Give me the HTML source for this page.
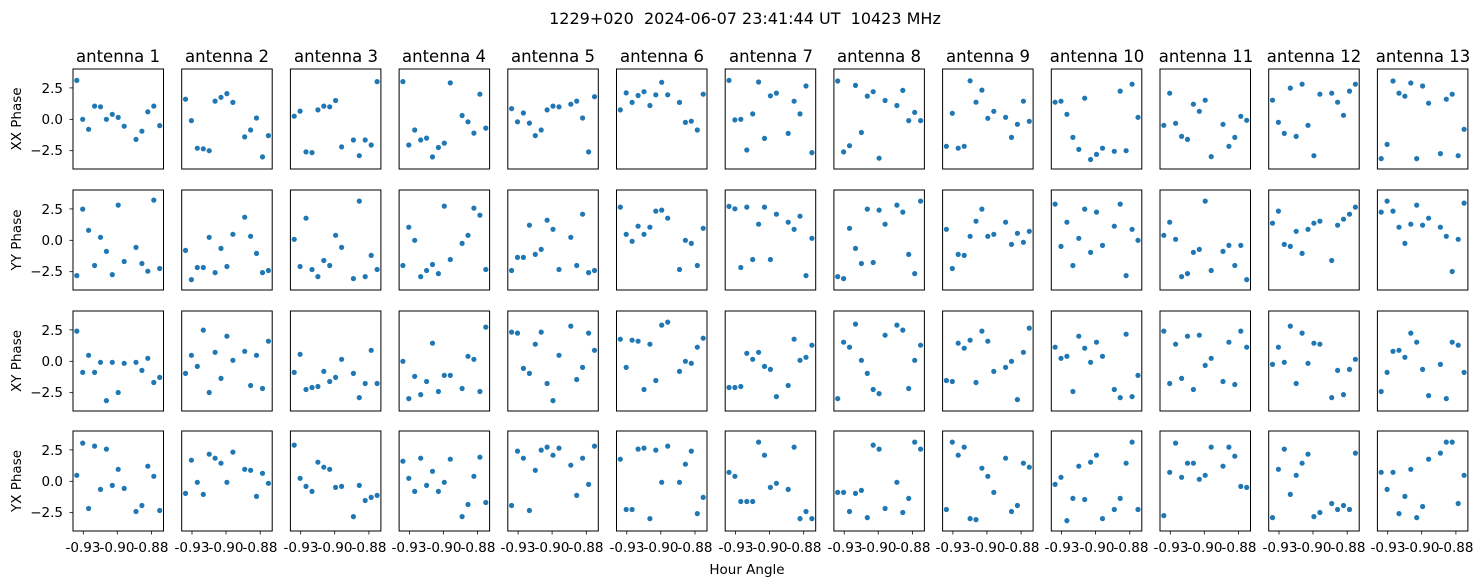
<!DOCTYPE html>
<html><head><meta charset="utf-8"><style>
html,body{margin:0;padding:0;background:#fff;}
svg{display:block;font-family:"DejaVu Sans","Liberation Sans",sans-serif;}
</style></head><body>
<svg id="s" width="1482" height="586" viewBox="0 0 1482 586" xmlns="http://www.w3.org/2000/svg">
<text x="745" y="24" font-size="16" text-anchor="middle" style="white-space:pre" xml:space="preserve">1229+020  2024-06-07 23:41:44 UT  10423 MHz</text>
<g font-size="16.5" text-anchor="middle">
<text x="118" y="62">antenna 1</text><text x="227" y="62">antenna 2</text><text x="336" y="62">antenna 3</text><text x="444" y="62">antenna 4</text><text x="553" y="62">antenna 5</text><text x="662" y="62">antenna 6</text><text x="771" y="62">antenna 7</text><text x="879" y="62">antenna 8</text><text x="988" y="62">antenna 9</text><text x="1097" y="62">antenna 10</text><text x="1206" y="62">antenna 11</text><text x="1314" y="62">antenna 12</text><text x="1423" y="62">antenna 13</text>
</g>
<g font-size="13.5" text-anchor="middle">
<text transform="translate(21,119) rotate(-90)">XX Phase</text>
<text transform="translate(21,240) rotate(-90)">YY Phase</text>
<text transform="translate(21,361) rotate(-90)">XY Phase</text>
<text transform="translate(21,481) rotate(-90)">YX Phase</text>
<text x="747" y="574">Hour Angle</text>
</g>
<g font-size="13.5" text-anchor="end">
<text x="63" y="93">2.5</text><text x="63" y="124">0.0</text><text x="63" y="155">−2.5</text>
<text x="63" y="214">2.5</text><text x="63" y="245">0.0</text><text x="63" y="276">−2.5</text>
<text x="63" y="335">2.5</text><text x="63" y="366">0.0</text><text x="63" y="397">−2.5</text>
<text x="63" y="455">2.5</text><text x="63" y="486">0.0</text><text x="63" y="517">−2.5</text>
</g>
<g font-size="13.5" text-anchor="middle">
<text x="83" y="552">-0.93</text><text x="117" y="552">-0.90</text><text x="151" y="552">-0.88</text>
<text x="192" y="552">-0.93</text><text x="226" y="552">-0.90</text><text x="260" y="552">-0.88</text>
<text x="301" y="552">-0.93</text><text x="335" y="552">-0.90</text><text x="369" y="552">-0.88</text>
<text x="409" y="552">-0.93</text><text x="444" y="552">-0.90</text><text x="478" y="552">-0.88</text>
<text x="518" y="552">-0.93</text><text x="552" y="552">-0.90</text><text x="586" y="552">-0.88</text>
<text x="627" y="552">-0.93</text><text x="661" y="552">-0.90</text><text x="695" y="552">-0.88</text>
<text x="736" y="552">-0.93</text><text x="770" y="552">-0.90</text><text x="804" y="552">-0.88</text>
<text x="845" y="552">-0.93</text><text x="879" y="552">-0.90</text><text x="913" y="552">-0.88</text>
<text x="953" y="552">-0.93</text><text x="988" y="552">-0.90</text><text x="1022" y="552">-0.88</text>
<text x="1062" y="552">-0.93</text><text x="1097" y="552">-0.90</text><text x="1131" y="552">-0.88</text>
<text x="1171" y="552">-0.93</text><text x="1205" y="552">-0.90</text><text x="1239" y="552">-0.88</text>
<text x="1280" y="552">-0.93</text><text x="1314" y="552">-0.90</text><text x="1348" y="552">-0.88</text>
<text x="1388" y="552">-0.93</text><text x="1422" y="552">-0.90</text><text x="1456" y="552">-0.88</text>
</g>
<g id="g"></g>
</svg>
<script>
var R1=[
[3.1,0,-0.8,1.05,1.0,0,0.4,0.15,-0.55,-1.6,-0.95,0.6,1.05,-0.5],
[1.6,-0.1,-2.3,-2.35,-2.5,1.45,1.75,2.05,1.35,-1.4,-0.85,0.1,-3.0,-1.3],
[0.25,0.65,-2.6,-2.65,0.75,1.05,1.0,1.5,-2.2,-1.65,-2.9,-1.65,-2.05,3.0],
[3.0,-2.05,-0.85,-1.65,-1.5,-3.0,-2.25,-1.9,2.9,0.3,-0.2,-1.1,2.0,-0.7],
[0.85,-0.2,0.5,-0.3,-1.3,-0.85,0.75,1.05,1.0,1.2,1.45,0.1,-2.6,1.8],
[0.75,2.1,1.35,1.9,2.2,1.1,1.95,2.95,1.95,1.35,-0.25,-0.15,-0.85,2.0],
[3.1,-0.05,0,-2.45,0.43,2.97,-1.52,1.87,2.09,-1.12,1.44,0.43,2.65,-2.65],
[3.05,-2.6,-2.1,2.7,-1.05,1.85,2.2,-3.1,1.5,1.1,2.3,-0.1,0.55,-0.1],
[-2.15,0.48,-2.3,-2.15,3.07,1.36,2.33,0.08,0.64,0.16,-1.44,-0.4,1.44,-0.16],
[1.36,1.44,0.4,-1.44,-2.4,1.68,-3.2,-2.8,-2.3,-2.55,2.25,-2.5,2.8,0.16],
[-0.48,2.08,-0.32,-1.36,-1.6,1.2,0.64,1.52,-2.97,-0.4,-2.15,-1.44,0.24,-0.08],
[1.52,-0.24,-1.12,2.49,-1.36,2.8,-0.48,-2.9,2.0,2.08,1.36,0.32,2.25,2.8],
[-3.13,-2.0,3.05,2.08,1.84,2.89,-3.13,2.65,1.28,-2.73,1.6,2.0,-2.9,-0.8]];
var R2=[
[283,85,148,253,169,211,280,73,241,199,247,270,58,262],
[208,295,259,259,169,274,202,256,160,109,166,217,274,268],
[175,256,112,265,286,238,253,163,199,292,61,286,223,265],
[253,139,178,286,268,250,277,76,235,187,163,82,103,265],
[268,229,229,133,220,205,118,145,265,169,253,100,274,268],
[79,160,181,136,160,139,91,88,112,265,178,187,253,142],
[77,84,259,79,235,130,79,235,100,124,145,106,283,172],
[286,292,142,202,247,85,244,88,130,73,94,220,277,61],
[145,262,220,223,166,121,85,166,160,124,190,157,184,151],
[70,196,124,253,172,85,214,94,193,136,70,283,145,178],
[163,124,175,286,277,214,205,61,268,211,193,253,193,295],
[127,91,190,196,151,217,145,127,121,238,133,115,100,79],
[94,61,91,139,187,130,73,133,112,139,166,271,175,67]];
var R3=[
[85,208,157,208,178,292,178,268,181,178,202,166,238,223],
[211,157,190,82,268,148,226,100,172,145,247,157,256,115],
[208,154,259,253,250,205,235,223,169,211,283,241,142,241],
[175,286,220,274,235,121,265,217,217,256,160,169,265,73],
[88,91,196,211,124,88,241,292,157,70,229,193,91,142],
[109,193,112,115,259,124,232,67,58,205,175,181,133,106],
[253,253,250,151,169,148,190,199,280,247,109,172,163,127],
[286,118,133,64,172,211,259,271,97,67,82,256,172,127],
[232,235,121,136,112,238,85,115,205,193,175,289,148,76],
[133,166,160,265,100,136,178,118,160,259,283,94,280,217],
[85,241,124,226,100,259,97,187,166,235,118,244,85,133],
[184,133,178,70,241,91,181,121,124,283,202,274,199,169],
[265,208,145,142,163,91,118,199,277,184,286,118,127,208]];
var R4=[
[160,64,259,73,202,82,190,142,199,268,250,133,163,265],
[214,115,181,217,97,109,124,181,91,142,145,223,154,184],
[70,169,193,208,121,136,142,196,193,283,190,235,226,220],
[118,169,208,109,190,148,208,181,112,283,247,163,106,241],
[250,88,109,265,145,85,76,100,79,130,220,109,187,73],
[112,262,262,82,79,289,85,181,73,181,127,88,274,226],
[151,163,238,238,238,61,100,196,184,202,76,289,268,289],
[211,211,268,214,205,286,70,82,259,181,271,229,61,82],
[262,61,100,76,289,292,139,163,211,109,268,250,124,136],
[187,166,295,229,133,232,121,100,289,262,229,124,61,262],
[280,151,64,166,124,124,172,160,76,133,76,103,193,196],
[286,142,82,217,160,124,97,283,271,244,262,250,262,94],
[151,202,151,274,223,142,286,253,112,94,61,61,244,160]];
var NS="http://www.w3.org/2000/svg",g=document.getElementById('g');
var tops=[69,190,311,431],W=90.5,H=100;
function el(n,a){var e=document.createElementNS(NS,n);for(var k in a)e.setAttribute(k,a[k]);g.appendChild(e);return e;}
var rows=[R1,R2,R3,R4],z0=[178,178,175,178];
for(var r=0;r<4;r++){for(var c=0;c<13;c++){
 var L=73+c*108.7,T=tops[r];
 var d=rows[r][c];
 for(var i=0;i<14;i++){var slot=i<9?i:i+1;var x=L+3.8+slot*5.92;var y;
  if(r==0)y=T+50.3-d[i]*12.55;else y=T+(d[i]-(z0[r]-150))/2.98;
  el('circle',{cx:x.toFixed(1),cy:y.toFixed(1),r:2.6,fill:'#1f77b4'});}
 el('rect',{x:L,y:T,width:W,height:H,fill:'none',stroke:'#000','stroke-width':1});
 if(c==0){[18.9,50.3,81.7].forEach(function(t){el('line',{x1:L-3.5,x2:L,y1:T+t,y2:T+t,stroke:'#000','stroke-width':0.8});});}
 if(r==3){[10.3,44.3,78.5].forEach(function(t){el('line',{x1:L+t,x2:L+t,y1:T+H,y2:T+H+3.5,stroke:'#000','stroke-width':0.8});});}
}}
</script>
</body></html>
